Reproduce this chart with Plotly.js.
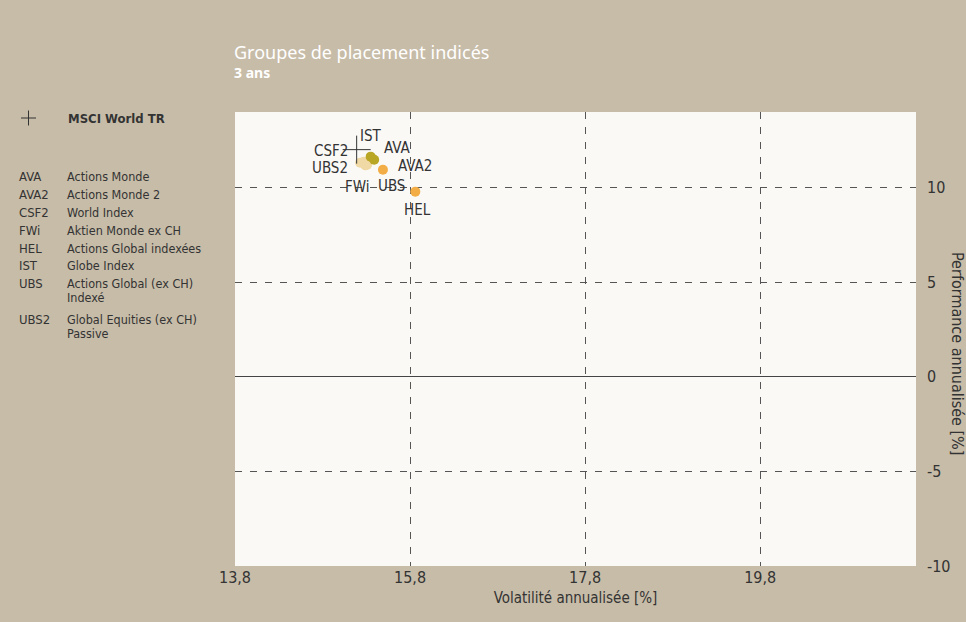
<!DOCTYPE html>
<html>
<head>
<meta charset="utf-8">
<script src="https://cdn.plot.ly/plotly-3.0.1.min.js"></script>
<style>html,body{margin:0;padding:0;background:#c7bca8;}#chart{width:966px;height:622px;}</style>
</head>
<body>
<div id="chart"></div>
<script>
// ---- data ----
const codes = ['AVA', 'AVA2', 'CSF2', 'FWi', 'HEL', 'IST', 'UBS', 'UBS2'];
const names = ['Actions Monde', 'Actions Monde 2', 'World Index', 'Aktien Monde ex CH',
  'Actions Global indexées', 'Globe Index', 'Actions Global (ex CH)<br>Indexé', 'Global Equities (ex CH)<br>Passive'];
const volatility = [15.39, 15.49, 15.27, 15.31, 15.86, 15.35, 15.29, 15.23];
const performance = [11.48, 10.95, 11.37, 11.22, 9.79, 11.64, 11.18, 11.32];
const groups = ['olive', 'orange', 'light', 'light', 'orange', 'olive', 'light', 'light'];
const benchName = 'MSCI World TR';
const benchVol = [15.19];
const benchPerf = [12.01];
const xTicks = [13.8, 15.8, 17.8, 19.8];
const yTicks = [-10, -5, 0, 5, 10];
const yTickText = ['-10', '-5', '0', '5', '10'];
const chartTitle = 'Groupes de placement indicés';
const chartSubtitle = '3 ans';
const xTitle = 'Volatilité annualisée [%]';
const yTitle = 'Performance annualisée [%]';

// ---- styles ----
const groupColor = {light: '#f0d9a4', olive: '#b9a625', orange: '#f3ad47'};
const drawOrder = ['light', 'olive', 'orange'];
const labelOffset = { // pixel offsets of labels from their point
  AVA: [23, -13], AVA2: [32, -5], CSF2: [-33, -12], FWi: [-10, 21],
  HEL: [2, 17], IST: [0, -22], UBS: [26, 20], UBS2: [-30, 4]
};
const W = 966, H = 622, L = 235, R = 50, T = 112, B = 56;
const pw = W - L - R, ph = H - T - B;
const px = x => (x - L) / pw;
const py = y => (H - B - y) / ph;
const narrow = '"Liberation Sans Narrow", "DejaVu Sans Condensed", "Noto Sans", sans-serif';
const txt = '#333333';

const traces = [];
drawOrder.forEach(g => {
  const idx = codes.map((c, i) => i).filter(i => groups[i] === g);
  traces.push({
    type: 'scatter', mode: 'markers',
    x: idx.map(i => volatility[i]), y: idx.map(i => performance[i]),
    text: idx.map(i => codes[i]),
    marker: {size: 10, color: groupColor[g], line: {width: 0}},
    hoverinfo: 'text', showlegend: false
  });
});
traces.push({
  type: 'scatter', mode: 'markers', x: benchVol, y: benchPerf, name: benchName,
  marker: {symbol: 'cross-thin', size: 20, line: {color: '#333', width: 1}},
  showlegend: false
});

const annotations = [];
codes.forEach((c, i) => {
  const o = labelOffset[c];
  annotations.push({
    x: volatility[i], y: performance[i], xref: 'x', yref: 'y', text: c, showarrow: false,
    xshift: o[0], yshift: -o[1] - 1, font: {family: narrow, size: 15, color: txt}
  });
});
// title
annotations.push({xref: 'paper', yref: 'paper', x: px(232), y: py(52), xanchor: 'left', yanchor: 'middle',
  text: chartTitle, showarrow: false, font: {family: '"Noto Sans", sans-serif', size: 18, color: '#ffffff'}});
annotations.push({xref: 'paper', yref: 'paper', x: px(232), y: py(72), xanchor: 'left', yanchor: 'middle',
  text: '<b>' + chartSubtitle + '</b>', showarrow: false, font: {family: '"Noto Sans", sans-serif', size: 14, color: '#ffffff'}});
// y title
annotations.push({xref: 'paper', yref: 'paper', x: px(958), y: py(353), xanchor: 'center', yanchor: 'middle',
  text: yTitle, textangle: 90, showarrow: false, font: {family: narrow, size: 16, color: txt}});
// legend
annotations.push({xref: 'paper', yref: 'paper', x: px(66), y: py(118), xanchor: 'left', yanchor: 'middle',
  text: '<b>' + benchName + '</b>', showarrow: false, font: {family: narrow, size: 13, color: txt}});
const rowY = [176, 194, 212, 230, 248, 265, 283, 319];
const lineStep = 14;
codes.forEach((c, i) => {
  annotations.push({xref: 'paper', yref: 'paper', x: px(18), y: py(rowY[i]), xanchor: 'left', yanchor: 'middle',
    borderpad: 0, text: c, showarrow: false, font: {family: narrow, size: 13, color: txt}});
  names[i].split('<br>').forEach((line, k) => {
    annotations.push({xref: 'paper', yref: 'paper', x: px(66), y: py(rowY[i] + k * lineStep), xanchor: 'left', yanchor: 'middle',
      borderpad: 0, align: 'left', text: line, showarrow: false, font: {family: narrow, size: 12.5, color: txt}});
  });
});

const shapes = [
  {type: 'line', xref: 'paper', yref: 'paper', x0: px(21), x1: px(36), y0: py(118), y1: py(118), line: {color: '#333', width: 1}},
  {type: 'line', xref: 'paper', yref: 'paper', x0: px(28.5), x1: px(28.5), y0: py(110.5), y1: py(125.5), line: {color: '#333', width: 1}}
];

const layout = {
  width: W, height: H,
  margin: {l: L, r: R, t: T, b: B, pad: 0},
  paper_bgcolor: '#c7bca8', plot_bgcolor: '#faf9f6',
  separators: ', ',
  showlegend: false,
  xaxis: {
    range: [13.8, 21.58], tickvals: xTicks, tickformat: '.1f',
    showgrid: true, gridcolor: '#555', griddash: '7px,8px', gridwidth: 1,
    zeroline: false, showline: false, ticks: '',
    tickfont: {family: narrow, size: 16, color: txt},
    title: {text: xTitle, font: {family: narrow, size: 15, color: txt}, standoff: 6}
  },
  yaxis: {
    range: [-10, 14], side: 'right', tickvals: yTicks, ticktext: yTickText,
    showgrid: true, gridcolor: '#555', griddash: '7px,8px', gridwidth: 1,
    zeroline: true, zerolinecolor: '#444', zerolinewidth: 1,
    showline: false, ticks: '', ticklabelstandoff: 10,
    tickfont: {family: narrow, size: 16, color: txt}
  },
  annotations: annotations, shapes: shapes,
  font: {family: narrow, color: txt}
};
Plotly.newPlot('chart', traces, layout, {displayModeBar: false, staticPlot: true});
</script>
</body>
</html>
